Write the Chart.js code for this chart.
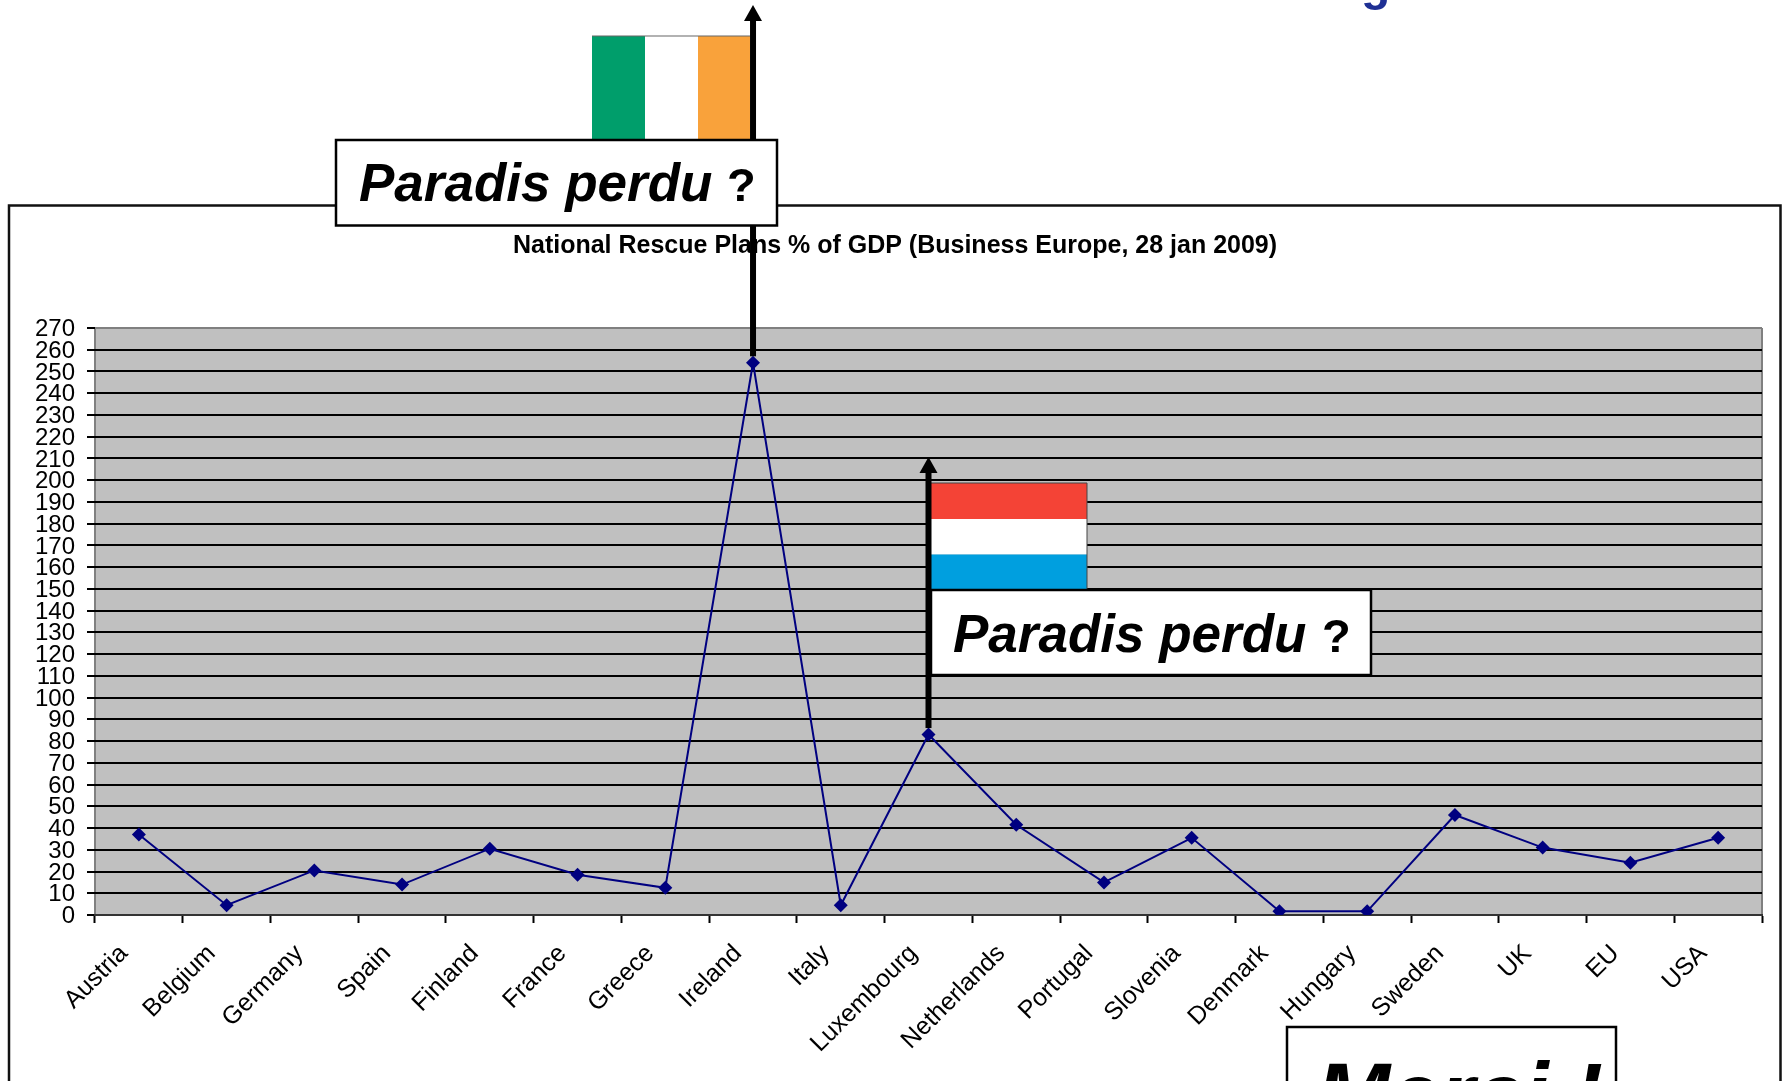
<!DOCTYPE html>
<html>
<head>
<meta charset="utf-8">
<title>National Rescue Plans</title>
<script src="https://cdn.jsdelivr.net/npm/chart.js@4"></script>
<style>
  html, body { margin: 0; padding: 0; background: #fff; overflow: hidden; }
  #wrap { width: 1783px; height: 1081px; }
</style>
</head>
<body>
<div id="wrap"><canvas id="rescue"></canvas></div>
<script>
const countries = ['Austria', 'Belgium', 'Germany', 'Spain', 'Finland', 'France', 'Greece', 'Ireland', 'Italy', 'Luxembourg',
  'Netherlands', 'Portugal', 'Slovenia', 'Denmark', 'Hungary', 'Sweden', 'UK', 'EU', 'USA'];
const rescuePlans = [37, 4.5, 20.5, 14, 30.5, 18.5, 12.5, 254, 4.5, 83, 41.5, 15, 35.5, 1.7, 1.7, 46, 31, 24, 35.5];
const yTicks = [0, 10, 20, 30, 40, 50, 60, 70, 80, 90, 100, 110, 120, 130, 140, 150, 160, 170, 180, 190, 200, 210, 220, 230, 240, 250, 260, 270];
const chartTitle = 'National Rescue Plans % of GDP (Business Europe, 28 jan 2009)';

const FONT = '"Liberation Sans", Arial, sans-serif';

function pole(ctx, x, bottom, tip) {
  ctx.fillStyle = '#000';
  ctx.fillRect(x - 3, tip + 14, 6, bottom - tip - 14);
  ctx.beginPath();
  ctx.moveTo(x, tip);
  ctx.lineTo(x + 9, tip + 16);
  ctx.lineTo(x - 9, tip + 16);
  ctx.closePath();
  ctx.fill();
}

function paradisBox(ctx, x, y, w, h, textX, questionX, baseline) {
  ctx.fillStyle = '#fff';
  ctx.fillRect(x, y, w, h);
  ctx.strokeStyle = '#000';
  ctx.lineWidth = 2.5;
  ctx.strokeRect(x, y, w, h);
  ctx.fillStyle = '#000';
  ctx.textAlign = 'left';
  ctx.textBaseline = 'alphabetic';
  ctx.font = 'italic bold 53px ' + FONT;
  ctx.fillText('Paradis perdu', textX, baseline);
  ctx.font = 'bold 47px ' + FONT;
  ctx.fillText('?', questionX, baseline);
}

const decorations = {
  id: 'decorations',
  beforeDraw(chart) {
    const { ctx, chartArea: a } = chart;
    ctx.save();
    // outer frame, runs off the bottom of the slide
    ctx.strokeStyle = '#111';
    ctx.lineWidth = 2.5;
    ctx.strokeRect(9, 205.5, 1771.5, 1000);
    ctx.fillStyle = '#c0c0c0';
    ctx.fillRect(a.left, a.top, a.right - a.left, a.bottom - a.top);
    ctx.strokeStyle = '#808080';
    ctx.lineWidth = 2;
    ctx.beginPath();
    ctx.moveTo(a.right, a.top);
    ctx.lineTo(a.right, a.bottom);
    ctx.moveTo(a.left, a.top);
    ctx.lineTo(a.left, a.bottom);
    ctx.stroke();
    // chart title sits off-centre, so it is placed by hand
    ctx.fillStyle = '#000';
    ctx.font = 'bold 25px ' + FONT;
    ctx.textAlign = 'center';
    ctx.textBaseline = 'middle';
    ctx.fillText(chartTitle, 895, 246);
    // cut-off letter from the slide heading
    ctx.fillStyle = '#1f3094';
    ctx.font = 'bold 48px ' + FONT;
    ctx.textAlign = 'left';
    ctx.textBaseline = 'alphabetic';
    ctx.fillText('g', 1361, 0);
    ctx.restore();
  },
  afterDraw(chart) {
    const { ctx, scales } = chart;
    const irelandX = scales.x.getPixelForValue(countries.indexOf('Ireland'));
    const irelandY = scales.y.getPixelForValue(rescuePlans[countries.indexOf('Ireland')]);
    const luxX = scales.x.getPixelForValue(countries.indexOf('Luxembourg'));
    const luxY = scales.y.getPixelForValue(rescuePlans[countries.indexOf('Luxembourg')]);
    ctx.save();

    // Irish flag
    ctx.fillStyle = '#009e6b';
    ctx.fillRect(592, 36, 53, 104);
    ctx.fillStyle = '#fff';
    ctx.fillRect(645, 36, 53, 104);
    ctx.fillStyle = '#f9a23b';
    ctx.fillRect(698, 36, 52, 104);
    ctx.fillStyle = '#666';
    ctx.fillRect(592, 35.5, 158, 1);
    pole(ctx, irelandX, irelandY - 6.5, 5);
    paradisBox(ctx, 336, 140, 441, 85.5, 359, 727, 201);

    // Luxembourg flag
    ctx.fillStyle = '#f44336';
    ctx.fillRect(931, 483, 156, 36);
    ctx.fillStyle = '#fff';
    ctx.fillRect(931, 519, 156, 35.5);
    ctx.fillStyle = '#009fdf';
    ctx.fillRect(931, 554.5, 156, 36);
    ctx.fillStyle = '#444';
    ctx.fillRect(931, 482.5, 156, 1);
    ctx.fillRect(1086.5, 483, 1, 107);
    pole(ctx, luxX, luxY - 6.5, 457);
    paradisBox(ctx, 931, 590, 440, 85, 953, 1322, 652);

    // Merci box, cut by the bottom edge
    ctx.fillStyle = '#fff';
    ctx.fillRect(1287, 1027, 329, 80);
    ctx.strokeStyle = '#000';
    ctx.lineWidth = 2.5;
    ctx.strokeRect(1287, 1027, 329, 100);
    ctx.fillStyle = '#000';
    ctx.font = 'italic bold 89px ' + FONT;
    ctx.textAlign = 'left';
    ctx.textBaseline = 'alphabetic';
    ctx.fillText('Merci !', 1316, 1125);
    ctx.restore();
  }
};

window.onload = function() {
  const rescue = document.getElementById('rescue').getContext('2d');
  new Chart(rescue, {
    type: 'line',
    data: {
      labels: countries,
      datasets: [{
        label: 'Rescue plans % of GDP',
        data: rescuePlans,
        borderColor: '#000080',
        backgroundColor: '#000080',
        borderWidth: 2,
        tension: 0,
        pointStyle: 'rectRot',
        pointRadius: 7,
        pointBorderWidth: 0
      }]
    },
    options: {
      responsive: true,
      maintainAspectRatio: false,
      animation: false,
      layout: { autoPadding: false, padding: { top: 328, left: 0, right: 21, bottom: 0 } },
      plugins: {
        legend: { display: false },
        tooltip: { enabled: false },
        title: { display: false }
      },
      scales: {
        x: {
          type: 'category',
          offset: true,
          afterFit(scale) { scale.height = 166; },
          border: { color: '#333', width: 2 },
          grid: { offset: true, drawOnChartArea: false, drawTicks: true, tickLength: 8, tickColor: '#000', tickWidth: 2 },
          ticks: {
            color: '#000',
            autoSkip: false,
            minRotation: 45,
            maxRotation: 45,
            labelOffset: -15,
            padding: 16,
            font: { family: FONT, size: 25 }
          }
        },
        y: {
          min: 0,
          max: 270,
          afterFit(scale) { scale.width = 95; },
          afterBuildTicks(scale) { scale.ticks = yTicks.map(v => ({ value: v })); },
          border: { display: false },
          grid: {
            color: ctx => (ctx.tick.value === 270 ? '#808080' : '#000'),
            lineWidth: 2,
            tickColor: '#000',
            tickLength: 8
          },
          ticks: {
            color: '#000',
            autoSkip: false,
            padding: 12,
            labelOffset: 1.5,
            font: { family: FONT, size: 24 }
          }
        }
      }
    },
    plugins: [decorations]
  });
};
</script>
</body>
</html>
